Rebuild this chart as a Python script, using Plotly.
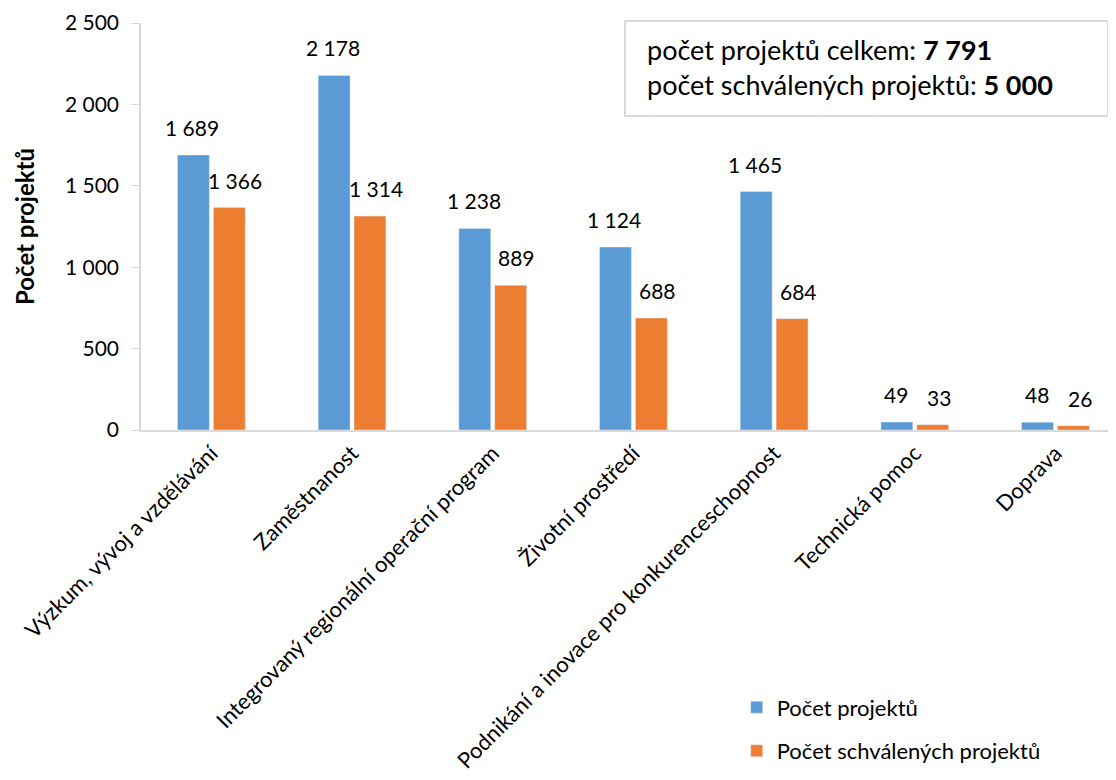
import plotly.graph_objects as go

categories = [
    "Výzkum, vývoj a vzdělávání",
    "Zaměstnanost",
    "Integrovaný regionální operační program",
    "Životní prostředí",
    "Podnikání a inovace pro konkurenceschopnost",
    "Technická pomoc",
    "Doprava",
]
pocet_projektu = [1689, 2178, 1238, 1124, 1465, 49, 48]
pocet_schvalenych = [1366, 1314, 889, 688, 684, 33, 26]
y_ticks = [0, 500, 1000, 1500, 2000, 2500]
total_all = 7791
total_approved = 5000

BLUE = "#5B9BD5"
ORANGE = "#ED7D31"
FONT = "Lato, 'Open Sans', sans-serif"


def fmt(v):
    return f"{v:,}".replace(",", " ")


fig = go.Figure()
fig.add_bar(x=categories, y=pocet_projektu, name="Počet projektů",
            marker_color=BLUE, legendgroup="a")
fig.add_bar(x=categories, y=pocet_schvalenych, name="Počet schválených projektů",
            marker_color=ORANGE, legendgroup="b")

annotations = []
for c, v in zip(categories, pocet_projektu):
    annotations.append(dict(x=c, y=v, xref="x", yref="y", text=fmt(v),
                            showarrow=False, yanchor="bottom", xshift=-19,
                            yshift=13, font=dict(size=21, color="#000")))
for c, v in zip(categories, pocet_schvalenych):
    annotations.append(dict(x=c, y=v, xref="x", yref="y", text=fmt(v),
                            showarrow=False, yanchor="bottom", xshift=24,
                            yshift=13, font=dict(size=21, color="#000")))

annotations.append(dict(
    xref="paper", yref="paper", x=0.5169, y=0.892, xanchor="left", yanchor="middle",
    align="left", showarrow=False,
    text=(f"počet projektů celkem: <b>{fmt(total_all)}</b><br>"
          f"počet schválených projektů: <b>{fmt(total_approved)}</b>"),
    font=dict(size=27, color="#000"),
))

shapes = [dict(type="rect", xref="paper", yref="paper",
               x0=0.4964, x1=0.9918, y0=0.7715, y1=1.0049,
               line=dict(color="#D9D9D9", width=2), fillcolor="white",
               layer="below")]

fig.update_layout(
    width=1116, height=780,
    margin=dict(l=133, r=8, t=15, b=358),
    paper_bgcolor="white", plot_bgcolor="white",
    font=dict(family=FONT, size=18, color="#000"),
    separators=", ",
    barmode="group", bargap=0.49, bargroupgap=0.11,
    showlegend=True,
    legend=dict(x=0.611, y=-0.63, xanchor="left", yanchor="top",
                font=dict(size=22), itemwidth=30, tracegroupgap=12,
                bgcolor="rgba(0,0,0,0)"),
    annotations=annotations,
    shapes=shapes,
    xaxis=dict(range=[-0.5, 6.43], tickangle=-45, showline=True,
               linecolor="#D9D9D9", linewidth=1.5, ticks="",
               tickfont=dict(size=22), automargin=False,
               ticklabelstandoff=0),
    yaxis=dict(range=[0, 2500], tickvals=y_ticks, tickformat=",d",
               showgrid=False, showline=True, linecolor="#D9D9D9",
               linewidth=1.5, ticks="outside", ticklen=8, tickcolor="#D9D9D9",
               tickfont=dict(size=21), zeroline=False, automargin=False,
               ticklabelstandoff=8,
               title=dict(text="<b>Počet projektů</b>", font=dict(size=24),
                          standoff=24)),
)

fig.write_html("out.html")
